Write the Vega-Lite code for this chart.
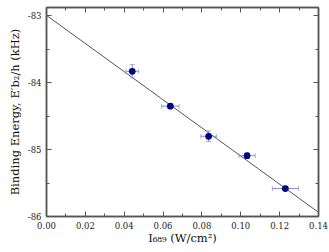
{
  "$schema": "https://vega.github.io/schema/vega-lite/v6.json",
  "width": 272,
  "height": 209,
  "autosize": "none",
  "padding": {"left": 46, "top": 7, "right": 11, "bottom": 36},
  "background": "white",
  "config": {
    "view": {"stroke": null},
    "font": "DejaVu Serif",
    "axis": {"grid": false, "labelFlush": false, "labelOverlap": false, "domainColor": "#555", "domainWidth": 1.5, "tickColor": "#555", "tickWidth": 1, "labelFont": "DejaVu Serif", "labelFontSize": 8.5, "labelColor": "#222", "titleFont": "DejaVu Serif", "titleFontSize": 11.5, "titleFontWeight": "normal", "titleColor": "#111"}
  },
  "datasets": {
    "fit": [{"x": 0, "y": -83.0}, {"x": 0.14, "y": -85.94}],
    "pts": [
      {"x": 0.0444, "y": -83.84, "xlo": 0.0411, "xhi": 0.0477, "ylo": -83.94, "yhi": -83.74},
      {"x": 0.0640, "y": -84.36, "xlo": 0.0595, "xhi": 0.0685, "ylo": -84.39, "yhi": -84.33},
      {"x": 0.0837, "y": -84.81, "xlo": 0.0797, "xhi": 0.0877, "ylo": -84.89, "yhi": -84.73},
      {"x": 0.1035, "y": -85.10, "xlo": 0.0993, "xhi": 0.1077, "ylo": -85.14, "yhi": -85.06},
      {"x": 0.1232, "y": -85.59, "xlo": 0.1165, "xhi": 0.1299, "ylo": -85.62, "yhi": -85.56}
    ]
  },
  "resolve": {"axis": {"x": "independent", "y": "independent"}},
  "layer": [
    {
      "data": {"name": "fit"},
      "mark": {"type": "line", "color": "#555", "strokeWidth": 1},
      "encoding": {
        "x": {"field": "x", "type": "quantitative", "scale": {"domain": [0, 0.14], "nice": false, "zero": false},
          "axis": {"orient": "bottom", "values": [0, 0.02, 0.04, 0.06, 0.08, 0.1, 0.12, 0.14], "format": ".2f", "tickSize": -5, "labelPadding": 10, "title": "I₆₈₉ (W/cm²)", "titlePadding": 3}},
        "y": {"field": "y", "type": "quantitative", "scale": {"domain": [-86, -82.88], "nice": false, "zero": false},
          "axis": {"orient": "left", "values": [-86, -85, -84, -83], "labelExpr": "'' + datum.value", "tickSize": -5, "labelPadding": 10, "title": "Binding Energy, E′b₂/h (kHz)", "titlePadding": 7}}
      }
    },
    {
      "data": {"name": "pts"},
      "mark": {"type": "errorbar", "ticks": {"size": 5}, "color": "#8a8ad6", "thickness": 1},
      "encoding": {
        "x": {"field": "xlo", "type": "quantitative", "axis": {"orient": "top", "values": [0, 0.02, 0.04, 0.06, 0.08, 0.1, 0.12, 0.14], "tickSize": -5, "labels": false, "title": null}},
        "x2": {"field": "xhi"},
        "y": {"field": "y", "type": "quantitative", "axis": {"orient": "right", "values": [-86, -85, -84, -83], "tickSize": -5, "labels": false, "title": null}}
      }
    },
    {
      "data": {"name": "pts"},
      "mark": {"type": "errorbar", "ticks": {"size": 5}, "color": "#8a8ad6", "thickness": 1},
      "encoding": {
        "y": {"field": "ylo", "type": "quantitative", "axis": {"orient": "left", "values": [-85.5, -84.5, -83.5], "tickSize": -3, "labels": false, "title": null}},
        "y2": {"field": "yhi"},
        "x": {"field": "x", "type": "quantitative", "axis": {"orient": "bottom", "values": [0.01, 0.03, 0.05, 0.07, 0.09, 0.11, 0.13], "tickSize": -3, "labels": false, "title": null}}
      }
    },
    {
      "data": {"name": "pts"},
      "mark": {"type": "point", "filled": true, "shape": "circle", "size": 45, "color": "#00007f", "opacity": 1},
      "encoding": {
        "x": {"field": "x", "type": "quantitative", "axis": {"orient": "top", "values": [0.01, 0.03, 0.05, 0.07, 0.09, 0.11, 0.13], "tickSize": -3, "labels": false, "title": null}},
        "y": {"field": "y", "type": "quantitative", "axis": {"orient": "right", "values": [-85.5, -84.5, -83.5], "tickSize": -3, "labels": false, "title": null}}
      }
    }
  ]
}
